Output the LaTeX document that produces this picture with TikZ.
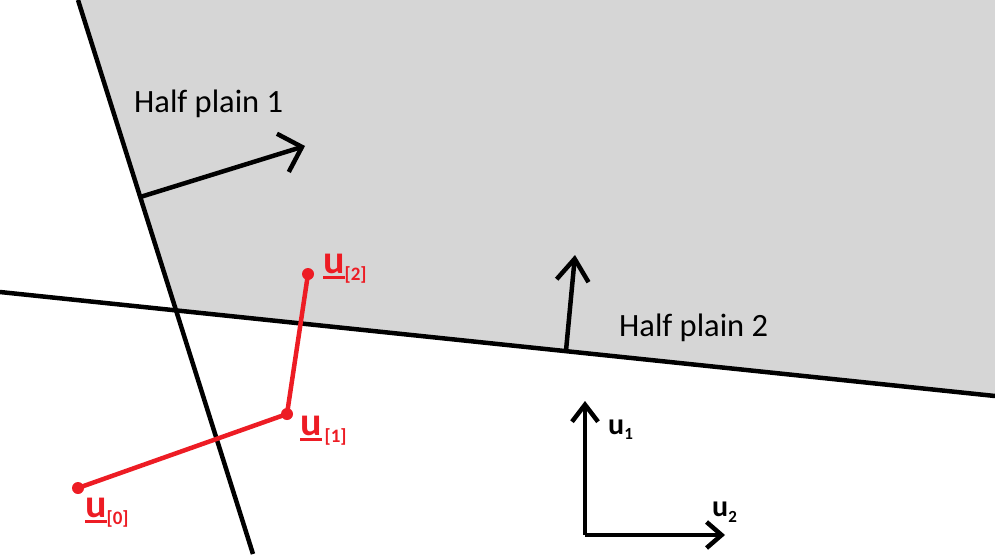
\documentclass[tikz,border=0pt]{standalone}
\usepackage{fontspec}
\setmainfont{Carlito}
\usetikzlibrary{arrows.meta,calc}
\definecolor{plane}{RGB}{214,214,214}
\definecolor{pred}{RGB}{237,28,36}
\newcommand\ulbox[1]{\sbox0{#1}\rlap{\rule[-6pt]{\wd0}{3.5pt}}\usebox0}
\tikzset{
  bline/.style={line width=4.5pt, black},
  harrow/.style={line width=4.5pt, -{Straight Barb[length=20pt,width=40pt]}},
  axarrow/.style={line width=4.5pt, -{Straight Barb[length=17pt,width=26pt]}},
  rline/.style={line width=4.5pt, pred},
  rdot/.style={circle, fill=pred, inner sep=0pt, minimum size=12pt},
  htext/.style={font=\fontsize{32.5}{32.5}\selectfont, anchor=base west, inner sep=0pt},
  rlab/.style={font=\fontsize{40}{40}\selectfont\bfseries, text=pred, anchor=base west, inner sep=0pt},
  klab/.style={font=\fontsize{30}{30}\selectfont\bfseries, anchor=base west, inner sep=0pt}
}
\begin{document}
\begin{tikzpicture}[x=1pt,y=-1pt]
\useasboundingbox (0,0) rectangle (995,554);
\coordinate (L1a) at (78,0);
\coordinate (L1b) at (253,554);
\coordinate (L2a) at (0,292);
\coordinate (L2b) at (995,396);
\coordinate (X) at (intersection of L1a--L1b and L2a--L2b);
\fill[plane] (L1a) -- (995,0) -- (L2b) -- (X) -- cycle;
\draw[bline] (L1a) -- (L1b);
\draw[bline] (L2a) -- (L2b);
% half-plane normals
\coordinate (B1) at ($(L1a)!0.3556!(L1b)$);
\coordinate (T1) at (305,146);
\draw[harrow] (B1) -- (T1);
\coordinate (B2) at ($(L2a)!0.5688!(L2b)$);
\coordinate (T2) at (575,255);
\draw[harrow, -{Straight Barb[length=22pt,width=32pt]}] (B2) -- (T2);
\node[htext] (h1) at (134,112) {Half plain 1};
\node[htext] (h2) at (619,336) {Half plain 2};
% red path
\node[rdot] (p0) at (78,488) {};
\node[rdot] (p1) at (287,414) {};
\node[rdot] (p2) at (308,274) {};
\draw[rline] (p0.center) -- (p1.center) -- (p2.center);
\node[rlab] (l0) at (85,517) {\ulbox{u}\raisebox{-7pt}{\fontsize{19}{19}\selectfont[0]}};
\node[rlab] (l1) at (300,435) {\ulbox{u}\hspace{3pt}\raisebox{-7pt}{\fontsize{19}{19}\selectfont[1]}};
\node[rlab] (l2) at (323,273) {\ulbox{u}\raisebox{-7pt}{\fontsize{19}{19}\selectfont[2]}};
% axes
\coordinate (O) at (585,535);
\coordinate (A1) at (585,401);
\coordinate (A2) at (725,535);
\draw[axarrow] (O) -- (A1);
\draw[axarrow, -{Straight Barb[length=15pt,width=26pt]}] (O) -- (A2);
\node[klab] (k1) at (608,434) {u\raisebox{-5pt}{\fontsize{17}{17}\selectfont 1}};
\node[klab] (k2) at (712,516) {u\raisebox{-6pt}{\fontsize{17}{17}\selectfont 2}};
\end{tikzpicture}
\end{document}
